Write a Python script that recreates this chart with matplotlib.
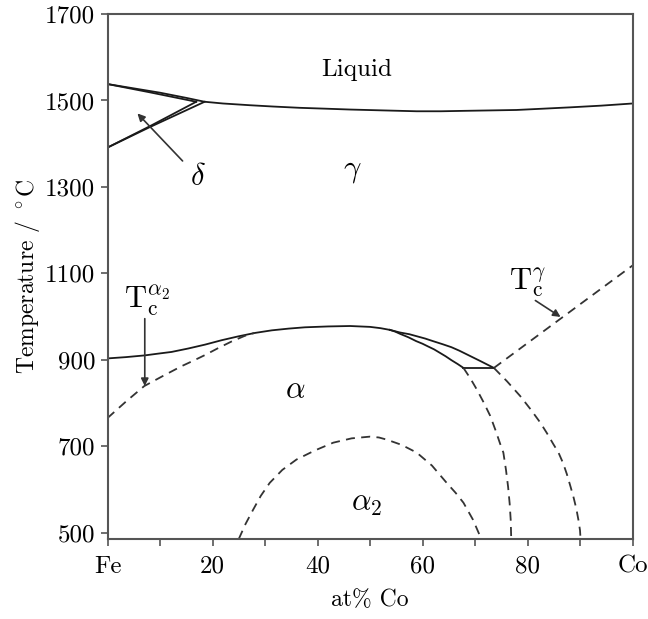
import numpy as np
import matplotlib
matplotlib.use("Agg")
import matplotlib.pyplot as plt

plt.rcParams['font.family'] = ['cmr10', 'DejaVu Serif']
plt.rcParams['mathtext.fontset'] = 'cm'
plt.rcParams['axes.formatter.use_mathtext'] = True

# ---- data (at% Co, Temperature in C) ----
liquidus_x = [0, 5, 10, 15, 18.5, 22, 27.1, 31.5, 36.6, 41.5, 46.2, 52.5, 58.9, 63.5, 68, 73, 77.9, 83, 88, 94, 100]
liquidus_t = [1538, 1528, 1518, 1506, 1497, 1493, 1489, 1486, 1483, 1481, 1479, 1477, 1475, 1475, 1476, 1477, 1478, 1481, 1484, 1488, 1493]

delta_sol_x = [0, 8, 16.9]
delta_sol_t = [1538, 1519, 1497]
delta_lo1_x = [0, 8, 16.9]
delta_lo1_t = [1391, 1440, 1497]
delta_lo2_x = [0, 8, 18.5]
delta_lo2_t = [1391, 1438, 1497]

ag_x = [0, 3.5, 7.1, 9.6, 12.2, 15.4, 18.6, 21.7, 24.9, 28.1, 31.3, 34.5, 37.6, 42, 46.2, 50, 52, 53.8]
ag_t = [903, 906, 910, 914, 918, 926, 935, 945, 954, 962, 968, 972, 975, 977, 978, 976, 973, 969]
gamma_bd_x = [53.8, 55.7, 57.5, 59, 60.5, 62, 63.8, 65.5, 67, 68.5, 70, 71, 72.3, 73.6]
gamma_bd_t = [969, 963, 959, 954, 949, 943, 936, 929, 921, 912, 903, 897, 889, 881]
alpha_bd_x = [53.8, 54.8, 55.7, 56.5, 57.3, 58.8, 60, 61, 62.2, 63.3, 64.4, 65.5, 66.7, 67.8]
alpha_bd_t = [969, 965, 960, 956, 952, 943, 937, 931, 924, 916, 908, 899, 890, 881]
tie_x = [67.8, 73.6]
tie_t = [881, 881]

tc_a2_x = [0, 3.5, 7, 10.5, 14.1, 16.4, 18.6, 21.1, 23.6, 26.1, 28]
tc_a2_t = [765, 803, 839, 862, 885, 898, 911, 927, 942, 955, 962]
tc_g_x = [73.6, 100]
tc_g_t = [881, 1118]

right1_x = [73.6, 76.1, 78.6, 80.6, 82.4, 83.7, 84.9, 85.9, 86.8, 87.5, 88.2, 88.8, 89.3, 89.7, 90.0, 90.1]
right1_t = [881, 850, 816, 785, 755, 730, 705, 685, 660, 635, 606, 580, 555, 529, 505, 485]
right2_x = [67.8, 69.1, 70.3, 71.7, 72.9, 73.9, 74.8, 75.4, 75.9, 76.3, 76.6, 76.8, 76.9]
right2_t = [881, 857, 832, 800, 770, 737, 705, 685, 645, 606, 567, 529, 485]

dome_x = [25.0, 26.3, 27.7, 29.2, 30.9, 33.3, 36, 39.5, 43, 46.5, 50, 51.7, 53.2, 56, 58.9, 61.8, 64.6, 66.3, 67.8, 69.6, 71.2]
dome_t = [485, 520, 552, 585, 615, 645, 669, 690, 708, 718, 722, 720, 715, 703, 685, 655, 615, 592, 569, 530, 485]

xticks = [0, 20, 40, 60, 80, 100]
xticklabels = ['Fe', '20', '40', '60', '80', 'Co']
yticks = [500, 700, 900, 1100, 1300, 1500, 1700]

fig = plt.figure(figsize=(6.48, 6.19), dpi=100)
ax = fig.add_axes([0.1659, 0.1292, 0.8102, 0.8481])

solid = dict(color='#1a1a1a', lw=1.3, solid_joinstyle='round')
dash = dict(color='#333333', lw=1.3, ls=(0, (5, 3.5)))

ax.plot(liquidus_x, liquidus_t, **solid)
ax.plot(delta_sol_x, delta_sol_t, **solid)
ax.plot(delta_lo1_x, delta_lo1_t, **solid)
ax.plot(delta_lo2_x, delta_lo2_t, **solid)
ax.plot(ag_x, ag_t, **solid)
ax.plot(gamma_bd_x, gamma_bd_t, **solid)
ax.plot(alpha_bd_x, alpha_bd_t, **solid)
ax.plot(tie_x, tie_t, **solid)

ax.plot(tc_a2_x, tc_a2_t, **dash)
ax.plot(tc_g_x, tc_g_t, **dash)
ax.plot(right1_x, right1_t, **dash)
ax.plot(right2_x, right2_t, **dash)
ax.plot(dome_x, dome_t, **dash)

ax.set_xlim(0, 100)
ax.set_ylim(485, 1700)
ax.set_xticks(xticks)
ax.set_xticklabels(xticklabels)
ax.set_xticks([10, 30, 50, 70, 90], minor=True)
ax.set_yticks(yticks)
ax.set_yticklabels([str(v) for v in yticks])

spine_c = '#555555'
for s in ax.spines.values():
    s.set_color(spine_c)
    s.set_linewidth(1.5)
ax.tick_params(axis='both', which='both', direction='out', length=5, width=1.2,
               color=spine_c, labelsize=18)
ax.tick_params(axis='x', which='both', pad=7)
ax.tick_params(axis='y', which='both', pad=4)

ax.set_xlabel('at% Co', fontsize=17, labelpad=8)
ax.set_ylabel(r'Temperature / $^\circ$C', fontsize=17, labelpad=2)

# labels
ax.text(47.5, 1570, 'Liquid', fontsize=18, ha='center', va='center')
ax.text(46.6, 1335, r'$\gamma$', fontsize=22, ha='center', va='center')
ax.text(35.7, 828, r'$\alpha$', fontsize=22, ha='center', va='center')
ax.text(49.4, 566, r'$\alpha_2$', fontsize=22, ha='center', va='center')
ax.text(17.2, 1322, r'$\delta$', fontsize=22, ha='center', va='center')
ax.text(7.6, 1036, r'$\mathrm{T}_\mathrm{c}^{\alpha_2}$', fontsize=22, ha='center', va='center')
ax.text(80.0, 1081, r'$\mathrm{T}_\mathrm{c}^{\gamma}$', fontsize=22, ha='center', va='center')

arrow = dict(arrowstyle='-|>', color='#333333', lw=1.2, mutation_scale=11, shrinkA=0, shrinkB=0)
ax.annotate('', xy=(5.7, 1470), xytext=(14.3, 1360), arrowprops=arrow)
ax.annotate('', xy=(7.1, 839), xytext=(7.1, 995), arrowprops=arrow)
ax.annotate('', xy=(86.3, 999), xytext=(81.5, 1037), arrowprops=arrow)

fig.savefig('out.png', dpi=100)
